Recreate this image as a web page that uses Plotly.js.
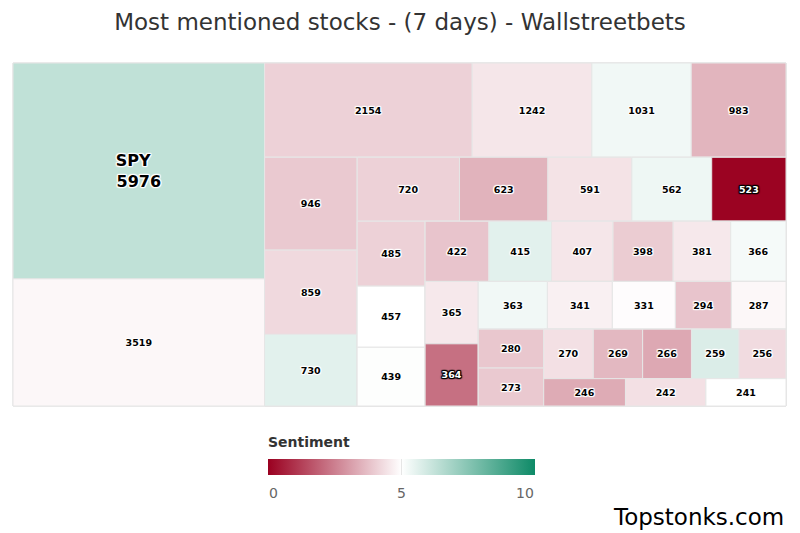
<!DOCTYPE html>
<html>
<head>
<meta charset="utf-8">
<script src="https://cdn.plot.ly/plotly-3.0.1.min.js"></script>
<style>html,body{margin:0;padding:0;background:#fff;}#chart{width:800px;height:533px;}</style>
</head>
<body>
<div id="chart"></div>
<script>
// Mentions (7 days) per tile, in reading order of the reference
const mentions = [5976, 3519,
  2154, 1242, 1031, 983,
  946, 859, 730,
  720, 623, 591, 562, 523,
  485, 457, 439,
  422, 415, 407, 398, 381, 366,
  365, 364,
  363, 341, 331, 294, 287,
  280, 273,
  270, 269, 266, 259, 256,
  246, 242, 241];
// Sentiment score 0..10 estimated from tile colour
const sentiment = [6.3, 4.85,
  4.1, 4.5, 5.3, 3.55,
  3.95, 4.25, 5.6,
  4.1, 3.5, 4.45, 5.35, 0.05,
  4.1, 5.0, 5.05,
  3.85, 5.6, 4.5, 4.0, 4.55, 5.2,
  4.55, 2.2,
  5.3, 4.7, 4.95, 3.85, 4.85,
  3.9, 3.95,
  4.4, 3.6, 3.3, 5.75, 4.3,
  3.35, 4.4, 5.0];
// Only the largest tile shows its ticker in the reference
const names = ['SPY'];
// Colour-axis tick labels
const scaleTicks = [0, 5, 10];
// Strip grouping (indices into the arrays above), alternating columns/rows
const strips = [[0,1],[2,3,4,5],[6,7,8],[9,10,11,12,13],[14,15,16],
  [17,18,19,20,21,22],[23,24],[25,26,27,28,29],[30,31],[32,33,34,35,36],[37,38,39]];

const outlineOf = c => [1,0, -1,0, 0,1, 0,-1, 1,1, -1,-1, 1,-1, -1,1]
  .reduce((a,v,i,arr)=> i%2 ? a : a.concat(arr[i]+'px '+arr[i+1]+'px 1px '+c), []).join(', ');
const lightOutline = outlineOf('#fff');
const darkOutline = outlineOf('#000');

const ids=[], labels=[], parents=[], values=[], colors=[], texts=[], sizes=[], tcolors=[], shadows=[];
function add(id, label, parent, v, c, t, s){
  ids.push(id); labels.push(label); parents.push(parent); values.push(v);
  colors.push(c); texts.push(t); sizes.push(s);
  const dark = c < 2.5;
  tcolors.push(dark ? '#fff' : '#000');
  shadows.push(dark ? darkOutline : lightOutline);
}
add('root','root','',0,5,'',10);
let parent='root';
strips.forEach((strip,k)=>{
  const gid='strip'+k;
  add(gid,'g'+k,parent,0,5,'',10);
  strip.forEach(i=>{
    const nm = names[i];
    add('t'+i, nm || String(mentions[i]), gid, mentions[i], sentiment[i],
        nm ? nm+'\u00a0\u00a0<br>'+mentions[i] : String(mentions[i]), nm ? 16 : 9.5);
  });
  if(k < strips.length-2){
    const rid='rest'+k;
    add(rid,'r'+k,parent,0,5,'',10);
    parent=rid;
  }
});

const tf = {family:'DejaVu Sans', size:sizes, color:tcolors, weight:'bold', shadow:shadows};

const trace = {
  type:'treemap',
  ids, labels, parents, values,
  branchvalues:'remainder',
  sort:false,
  text:texts,
  textinfo:'text',
  textposition:'middle center',
  textfont:tf,
  insidetextfont:tf,
  tiling:{packing:'slice-dice', pad:0},
  pathbar:{visible:false},
  hoverinfo:'skip',
  marker:{
    colors:colors,
    colorscale:[[0,'#9a0020'],[0.5,'#ffffff'],[1,'#0e8a67']],
    cmin:0, cmax:10,
    depthfade:false,
    pad:{t:0,l:0,r:0,b:0},
    line:{color:'#e6e6e6', width:1},
    showscale:true,
    colorbar:{
      orientation:'h',
      lenmode:'pixels', len:267, thickness:16,
      x:0.5026, xanchor:'center',
      y:(406-459)/343, yanchor:'top',
      xpad:0, ypad:0,
      outlinewidth:0,
      tickvals:scaleTicks,
      ticks:'inside', ticklen:16, tickcolor:'#e6e6e6', tickwidth:1,
      showticklabels:false
    }
  }
};

const px = x => (x-13)/773;
const py = y => (406-y)/343;
const tickX = [273, 401, 525];
const annotations = [{
    text:'Topstonks.com', xref:'paper', yref:'paper', showarrow:false,
    x:px(786), xanchor:'right', y:py(532), yanchor:'bottom',
    font:{family:'DejaVu Sans', size:23, color:'#000'}
  },{
    text:'<b>Sentiment</b>', xref:'paper', yref:'paper', showarrow:false,
    x:px(266), xanchor:'left', y:py(442), yanchor:'middle',
    font:{family:'DejaVu Sans', size:14, color:'#333'}
  }];
scaleTicks.forEach((t,i)=>annotations.push({
    text:String(t), xref:'paper', yref:'paper', showarrow:false,
    x:px(tickX[i]), xanchor:'center', y:py(493), yanchor:'middle',
    font:{family:'DejaVu Sans', size:14, color:'#666'}
}));

const layout = {
  width:800, height:533,
  margin:{l:13, r:14, t:63, b:127},
  paper_bgcolor:'#fff',
  title:{text:'Most mentioned stocks - (7 days) - Wallstreetbets',
    font:{family:'DejaVu Sans', size:23, color:'#333'},
    x:0.5, xanchor:'center', y:1-22/533, yanchor:'middle', yref:'container'},
  annotations
};

Plotly.newPlot('chart',[trace],layout,{displayModeBar:false, staticPlot:true});
</script>
</body>
</html>
